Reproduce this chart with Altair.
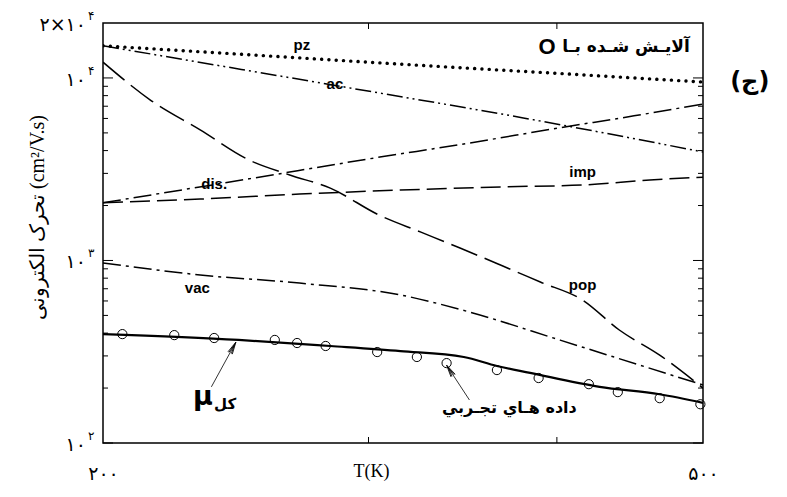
import altair as alt
import pandas as pd

# ---------------- data ----------------
T_pz = [200, 250, 300, 350, 400, 450, 500]
mu_pz = [15000, 13400, 12200, 11300, 10600, 10000, 9500]

T_ac = [200, 250, 305, 380, 427, 500]
mu_ac = [15000, 10950, 8270, 6040, 5050, 3930]

T_dis = [200, 250, 300, 350, 400, 450, 500]
mu_dis = [2070, 2800, 3600, 4400, 5300, 6200, 7200]

T_imp = [200, 232, 270, 315, 367, 416, 461, 500]
mu_imp = [2070, 2170, 2310, 2430, 2530, 2590, 2760, 2860]

T_vac = [200, 232, 270, 315, 350, 402, 454, 500]
mu_vac = [970, 833, 752, 647, 522, 366, 267, 208]

T_pop = [200, 215, 232, 250, 266, 283, 305, 325, 345, 367, 390, 416, 440, 468, 500]
mu_pop = [12200, 7570, 5190, 3550, 2940, 2490, 1770, 1430, 1170, 944, 762, 607, 416, 303, 200]

T_tot = [200, 246, 283, 315, 347, 365, 384, 427, 468, 500]
mu_tot = [395, 367, 340, 319, 296, 264, 242, 203, 185, 166]

T_exp = [206, 223, 237, 260, 269, 281, 304, 323, 338, 365, 389, 420, 439, 468, 498]
mu_exp = [395, 390, 376, 367, 353, 340, 315, 296, 274, 251, 227, 210, 190, 176, 163]

# curve labels
lab_text = ["pz", "ac", "dis.", "imp", "vac", "pop"]
lab_T = [271, 285, 237, 416, 231, 416]
lab_mu = [15150, 9260, 2640, 3050, 706, 733]

# axis tick values / labels
y_major = [100, 1000, 10000]
y_minor = [200, 300, 400, 500, 600, 700, 800, 900,
           2000, 3000, 4000, 5000, 6000, 7000, 8000, 9000]
x_minor = [300, 400]
ylab_vals = [100, 1000, 10000, 20000]
ylab_base = ["۱۰", "۱۰", "۱۰", "۲×۱۰"]
ylab_exp = ["۲", "۳", "۴", "۴"]

# annotation arrows (tail -> tip)
arr_T1 = [236, 350]
arr_mu1 = [203, 172]
arr_T2 = [245, 338]
arr_mu2 = [357, 267]
arr_angle = [28, 328]

# ---------------- scales / axes ----------------
xscale = alt.Scale(type="log", domain=[200, 500], nice=False)
yscale = alt.Scale(type="log", domain=[100, 20000], nice=False)

xaxis = alt.Axis(title="T(K)", values=[200, 500],
                 labelExpr="datum.value == 200 ? '۲۰۰' : '۵۰۰'",
                 labelFlush=False, labelPadding=21, labelFontSize=19,
                 labelFont="DejaVu Sans", labelColor="black",
                 ticks=False, domain=False, grid=False,
                 titleFont="Liberation Serif", titleFontSize=18,
                 titleFontWeight="normal", titleColor="black",
                 titleX=268, titleY=28, titleBaseline="middle")
yaxis = alt.Axis(title="تحرک الکترونی (cm²/V.s)", labels=False, ticks=False,
                 domain=False, grid=False,
                 titleFont="Liberation Serif", titleFontSize=20,
                 titleFontWeight="normal", titleColor="black",
                 titleX=-66, titleY=194, titleBaseline="middle")


def X(f):
    return alt.X(f, type="quantitative", scale=xscale, axis=xaxis)


def Y(f):
    return alt.Y(f, type="quantitative", scale=yscale, axis=yaxis)


def curve(T, mu, dash=None, width=1.5, cap="butt"):
    kw = dict(color="black", strokeWidth=width, strokeCap=cap,
              interpolate="monotone", clip=True)
    if dash:
        kw["strokeDash"] = dash
    return alt.Chart(pd.DataFrame({"T": T, "mu": mu})).mark_line(**kw).encode(
        x=X("T"), y=Y("mu"))


layers = []
layers.append(curve(T_tot, mu_tot, None, 2.2))
layers.append(curve(T_pz, mu_pz, [0.1, 7.2], 3.4, "round"))
layers.append(curve(T_ac, mu_ac, [16, 4, 2, 4, 2, 4], 1.5))
layers.append(curve(T_dis, mu_dis, [18, 5, 3, 5], 1.5))
layers.append(curve(T_imp, mu_imp, [20, 7], 1.5))
layers.append(curve(T_vac, mu_vac, [18, 5, 3, 5], 1.5))
layers.append(curve(T_pop, mu_pop, [28, 8], 1.5))

# experimental points
layers.append(alt.Chart(pd.DataFrame({"T": T_exp, "mu": mu_exp})).mark_point(
    shape="circle", filled=False, size=85, color="black", strokeWidth=1, opacity=1
).encode(x=X("T"), y=Y("mu")))

# ticks (inward)
ymaj = pd.DataFrame({"v": y_major})
ymin = pd.DataFrame({"v": y_minor})
xmin = pd.DataFrame({"v": x_minor})
for d, a, b in [(ymaj, 0, 10), (ymin, 0, 5), (ymaj, 600, 590), (ymin, 600, 595)]:
    layers.append(alt.Chart(d).mark_rule(color="black", strokeWidth=1).encode(
        x=alt.value(a), x2=alt.value(b), y=Y("v")))
for a, b in [(0, 6), (420, 414)]:
    layers.append(alt.Chart(xmin).mark_rule(color="black", strokeWidth=1).encode(
        x=X("v"), y=alt.value(a), y2=alt.value(b)))

# y tick labels (Persian digits with superscript exponents)
ylab = pd.DataFrame({"v": ylab_vals, "b": ylab_base, "e": ylab_exp})
layers.append(alt.Chart(ylab).mark_text(
    align="right", baseline="middle", fontSize=19, font="DejaVu Sans", color="black", dy=2
).encode(x=alt.value(-17), y=Y("v"), text="b:N"))
layers.append(alt.Chart(ylab).mark_text(
    align="left", baseline="middle", fontSize=12, font="DejaVu Sans", color="black", dy=-7
).encode(x=alt.value(-15), y=Y("v"), text="e:N"))

# curve labels
layers.append(alt.Chart(pd.DataFrame({"T": lab_T, "mu": lab_mu, "t": lab_text})).mark_text(
    fontSize=15, fontWeight="bold", font="Liberation Sans", color="black"
).encode(x=X("T"), y=Y("mu"), text="t:N"))

# arrows
arr = pd.DataFrame({"T1": arr_T1, "mu1": arr_mu1, "T2": arr_T2, "mu2": arr_mu2, "ang": arr_angle})
layers.append(alt.Chart(arr).mark_rule(color="black", strokeWidth=0.8).encode(
    x=X("T1"), y=Y("mu1"), x2="T2", y2="mu2"))
layers.append(alt.Chart(arr).mark_point(
    shape="M-0.9,4.5 L0,0 L0.9,4.5 M-0.5,4.5 L0,1 L0.5,4.5", filled=False, size=30,
    color="black", strokeWidth=0.8, opacity=1
).encode(x=X("T2"), y=Y("mu2"), angle=alt.Angle("ang:Q", scale=None)))

# other annotations
def note(T, mu, text, size, font="DejaVu Sans", weight="bold", align="center"):
    return alt.Chart(pd.DataFrame({"T": [T], "mu": [mu], "t": [text]})).mark_text(
        fontSize=size, fontWeight=weight, font=font, color="black", align=align,
        baseline="middle"
    ).encode(x=X("T"), y=Y("mu"), text="t:N")

layers.append(note(490, 14770, "آلایـش شـده بـا", 17, align="right"))
layers.append(note(394, 14770, "O", 22, font="Liberation Sans"))
layers.append(note(537, 9500, "(ج)", 24))
layers.append(note(233, 178, "μ", 27, font="DejaVu Sans"))
layers.append(note(241, 163, "کل", 15))
layers.append(note(372, 155, "داده هـاي تجـربي", 16))

chart = alt.layer(*layers).properties(
    width=600, height=420,
    autosize=alt.AutoSizeParams(type="none"),
    padding={"left": 95, "top": 15, "right": 70, "bottom": 40},
).configure_view(stroke="black", strokeWidth=1.5)

chart.save("out.html", embed_options={"renderer": "svg", "actions": False})
